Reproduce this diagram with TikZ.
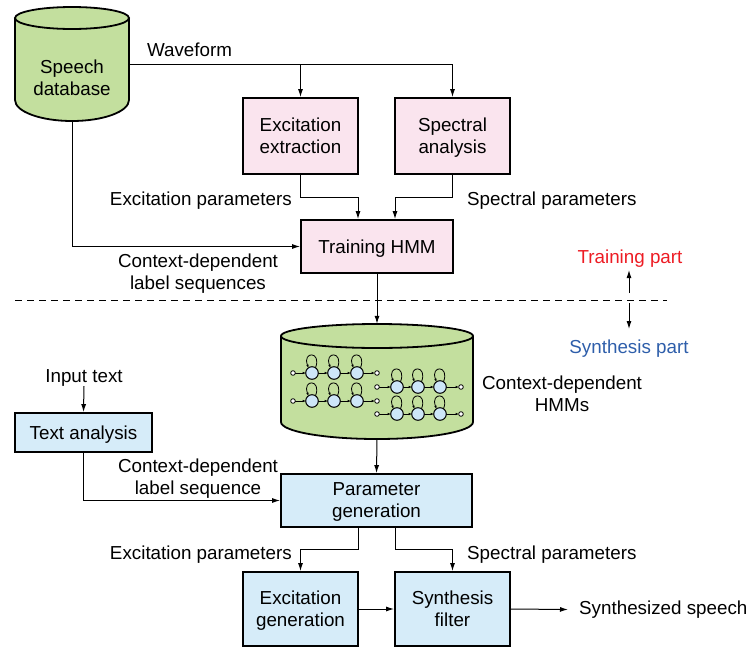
\documentclass[tikz,border=0pt]{standalone}
\usepackage{fontspec}
\setmainfont{Liberation Sans}
\usetikzlibrary{arrows.meta,calc}
\definecolor{dbgreen}{HTML}{C3DF9E}
\definecolor{trpink}{HTML}{FAE4EE}
\definecolor{synbox}{HTML}{D6ECF9}
\definecolor{stateblue}{HTML}{CDE6F8}
\definecolor{trred}{HTML}{ED1C24}
\definecolor{synblue}{HTML}{2E5EAA}
\begin{document}
\begin{tikzpicture}[x=1pt,y=-1pt,
  font=\fontsize{18.8}{22}\selectfont,
  every node/.style={align=center},
  pinkbox/.style={draw,line width=1.8pt,fill=trpink,inner sep=0pt,text depth=0pt},
  bluebox/.style={draw,line width=1.8pt,fill=synbox,inner sep=0pt,text depth=0pt},
  lbl/.style={inner sep=0pt,yshift=-2.5pt},
  conn/.style={line width=1pt},
  arr/.style={line width=1pt,-{Latex[length=8pt,width=5pt]}},
  smarr/.style={line width=0.8pt,-{Latex[length=3pt,width=2.6pt]}},
  cyl/.style={line width=1.8pt}]
\useasboundingbox (0,0) rectangle (750,648);

% Speech database cylinder
\fill[dbgreen] (15,18) -- (15,100) arc[start angle=180,end angle=360,x radius=57pt,y radius=21pt] -- (129,18) -- cycle;
\draw[cyl] (15,18) -- (15,100) arc[start angle=180,end angle=360,x radius=57pt,y radius=21pt] -- (129,18);
\draw[cyl,fill=dbgreen] (72,18) ellipse[x radius=57pt,y radius=11pt];
\node[inner sep=0pt,minimum width=114pt,minimum height=114pt] (db) at (72,64) {};
\node[lbl] (dbl) at (72,75.5) {Speech\\database};

% HMM cylinder
\fill[dbgreen] (281,336) -- (281,422) arc[start angle=180,end angle=360,x radius=96pt,y radius=17pt] -- (473,336) -- cycle;
\draw[cyl] (281,336) -- (281,422) arc[start angle=180,end angle=360,x radius=96pt,y radius=17pt] -- (473,336);
\draw[cyl,fill=dbgreen] (377,336) ellipse[x radius=96pt,y radius=12pt];
\node[inner sep=0pt,minimum width=192pt,minimum height=115pt] (hm) at (377,381.5) {};

% HMM glyphs
\foreach \xi/\y/\sa/\sb/\sc/\xo in {293/373/312/334/357/377, 293/401/312/334/357/377, 377/387/397/418/440/461, 377/414/397/418/440/461}{
  \draw[smarr] ({\xi+2.3},\y) -- ({\sa-6.3},\y);
  \draw[smarr] ({\sa+6.3},\y) -- ({\sb-6.3},\y);
  \draw[smarr] ({\sb+6.3},\y) -- ({\sc-6.3},\y);
  \draw[smarr] ({\sc+6.3},\y) -- ({\xo-2.3},\y);
  \foreach \s in {\sa,\sb,\sc}{
    \draw[smarr] ({\s+3.5},{\y-5.2}) .. controls ({\s+10},{\y-22}) and ({\s-10},{\y-22}) .. ({\s-3.5},{\y-5.2});
    \draw[line width=1pt,fill=stateblue] (\s,\y) circle[radius=6.3pt];
  }
  \draw[line width=0.8pt,fill=white] (\xi,\y) circle[radius=2.3pt];
  \draw[line width=0.8pt,fill=white] (\xo,\y) circle[radius=2.3pt];
}

% Boxes
\node[pinkbox,minimum width=115pt,minimum height=76pt] (ee) at (300.5,136) {Excitation\\extraction};
\node[pinkbox,minimum width=115pt,minimum height=76pt] (sa) at (452.5,136) {Spectral\\analysis};
\node[pinkbox,minimum width=152pt,minimum height=53pt] (th) at (377,246.5) {Training HMM};
\node[bluebox,minimum width=137pt,minimum height=39pt] (ta) at (83.5,432.5) {Text analysis};
\node[bluebox,minimum width=191pt,minimum height=53pt] (pg) at (376.5,500.5) {Parameter\\generation};
\node[bluebox,minimum width=115pt,minimum height=74pt] (eg) at (300.5,609) {Excitation\\generation};
\node[bluebox,minimum width=115pt,minimum height=74pt] (sf) at (452.5,609) {Synthesis\\filter};

% Labels
\node[lbl] (wf) at (189.5,47) {Waveform};
\node[lbl,anchor=east] (ep1) at (292,198) {Excitation parameters};
\node[lbl,anchor=west] (sp1) at (467,198) {Spectral parameters};
\node[lbl] (cd1) at (198,271.5) {Context-dependent\\label sequences};
\node[lbl,text=trred] (tp) at (630,256) {Training part};
\node[lbl,text=synblue] (sp) at (629,346) {Synthesis part};
\node[lbl] (chm) at (562,391) {Context-dependent\\HMMs};
\node[lbl] (it) at (84,375) {Input text};
\node[lbl] (cd2) at (198,476.5) {Context-dependent\\label sequence};
\node[lbl,anchor=east] (ep2) at (292,552) {Excitation parameters};
\node[lbl,anchor=west] (sp2) at (467,552) {Spectral parameters};
\node[lbl,anchor=west] (ss) at (579,607) {Synthesized speech};

% Connectors (training)
\draw[arr] (db.east) -| (sa.north);
\draw[arr] (db.east -| ee.north) -- (ee.north);
\draw[arr] (ee.south) -- ++(0,23) -| ([xshift=-19pt]th.north);
\draw[arr] (sa.south) -- ++(0,23) -| ([xshift=18pt]th.north);
\draw[arr] (db.south) |- (th.west);
\draw[arr] (th.south) -- (hm.north);

% Dashed separator and part arrows
\coordinate (dl) at (15,300);
\coordinate (dr) at (667,300);
\draw[line width=1pt,dash pattern=on 7pt off 5pt] (dl) -- (dr);
\coordinate (ua) at (629,293);
\coordinate (ub) at (629,270);
\coordinate (da) at (629,303);
\coordinate (dbt) at (629,329);
\draw[arr] (ua) -- (ub);
\draw[arr] (da) -- (dbt);

% Connectors (synthesis)
\draw[arr] (hm.south) -- (pg.north);
\draw[arr] (it.south) -- (ta.north);
\draw[arr] (ta.south) |- (pg.west);
\draw[arr] ([xshift=-18.5pt]pg.south) -- ++(0,22) -| (eg.north);
\draw[arr] ([xshift=18.5pt]pg.south) -- ++(0,22) -| (sf.north);
\draw[arr] (eg.east) -- (sf.west);
\draw[arr] (sf.east) -- ([xshift=-11pt]ss.west);
\end{tikzpicture}
\end{document}
